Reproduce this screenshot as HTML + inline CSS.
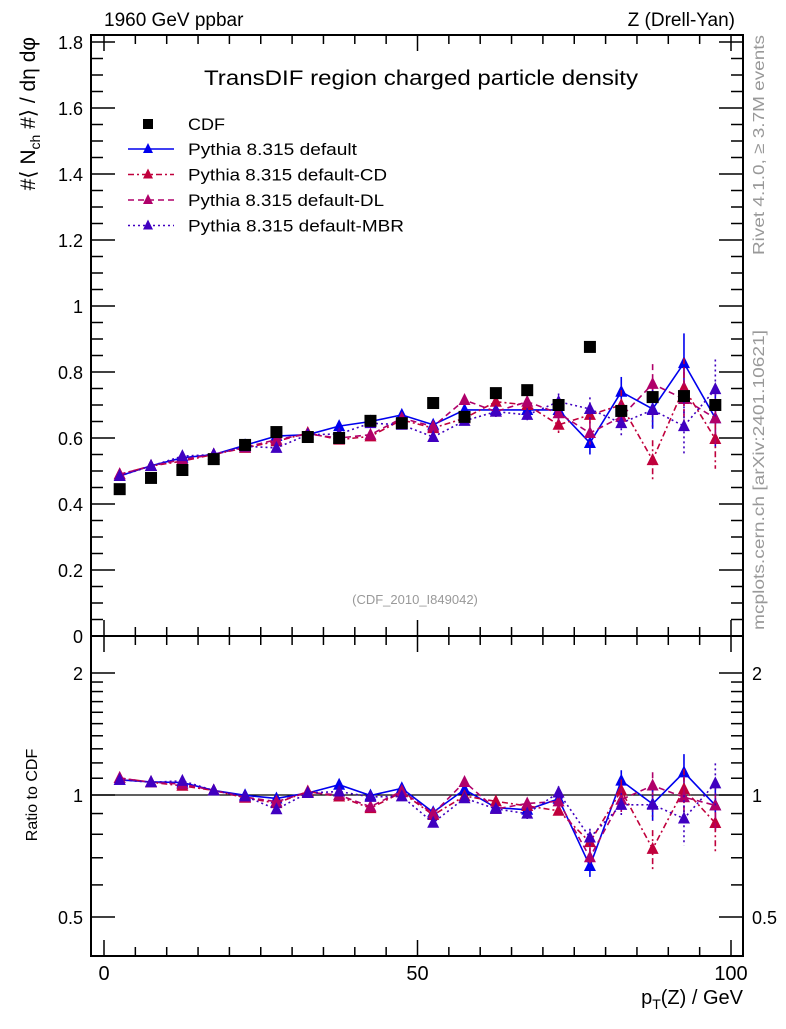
<!DOCTYPE html>
<html><head><meta charset="utf-8"><style>
body{margin:0;background:#fff;width:786px;height:1024px;overflow:hidden}
svg text{font-family:"Liberation Sans",sans-serif}
</style></head><body>
<svg id="c" width="786" height="1024" xmlns="http://www.w3.org/2000/svg"></svg>
<script>
const xs=[2.5,7.5,12.5,17.5,22.5,27.5,32.5,37.5,42.5,47.5,52.5,57.5,62.5,67.5,72.5,77.5,82.5,87.5,92.5,97.5];
const cdf=[0.445,0.479,0.503,0.536,0.579,0.618,0.603,0.600,0.652,0.645,0.706,0.664,0.736,0.745,0.700,0.876,0.682,0.724,0.727,0.700];
const sDefault=[0.485,0.516,0.540,0.550,0.578,0.606,0.610,0.636,0.650,0.670,0.640,0.685,0.685,0.685,0.685,0.585,0.740,0.688,0.827,0.660];
const sCD=[0.490,0.515,0.530,0.550,0.570,0.590,0.615,0.595,0.605,0.655,0.630,0.660,0.710,0.700,0.640,0.670,0.700,0.533,0.752,0.597];
const sDL=[0.490,0.515,0.535,0.550,0.572,0.595,0.612,0.600,0.610,0.660,0.635,0.715,0.680,0.710,0.675,0.615,0.664,0.764,0.718,0.660];
const sMBR=[0.485,0.515,0.545,0.550,0.575,0.570,0.610,0.612,0.645,0.640,0.603,0.652,0.680,0.670,0.710,0.688,0.645,0.685,0.636,0.748];
const errs=[0.004,0.004,0.004,0.005,0.005,0.006,0.007,0.008,0.009,0.01,0.012,0.014,0.016,0.02,0.025,0.035,0.045,0.06,0.09,0.09];
const yTicks=[0,0.2,0.4,0.6,0.8,1,1.2,1.4,1.6,1.8];
const rTicks=[0.5,1,2];
const xTicks=[0,50,100];
const NS="http://www.w3.org/2000/svg";
const svg=document.getElementById('c');
const L=91,R=743,T=35,M=636,B=956;
const X=v=>104+6.27*v, Y=v=>636-330*v, RY=r=>795-176*Math.log(r);
function el(t,a,txt){const e=document.createElementNS(NS,t);for(const k in a)e.setAttribute(k,a[k]);if(txt!=null)e.textContent=txt;svg.appendChild(e);return e;}
let e;
e=el('rect',{x:L,y:T,width:R-L,height:M-T,fill:'none',stroke:'#000','stroke-width':2});


e=el('rect',{x:L,y:M,width:R-L,height:B-M,fill:'none',stroke:'#000','stroke-width':2});


for(let v=0;v<=100;v+=5){const big=v%50==0;const l=big?16:9;
 for(const [y0,d] of [[T,1],[M,-1],[M,1],[B,-1]]){e=el('line',{x1:X(v),x2:X(v),y1:y0,y2:y0+d*l,stroke:'#000','stroke-width':1.5});
 
 }}
xTicks.forEach(v=>{e=el('text',{x:X(v),y:980,'font-size':20,'text-anchor':'middle'},String(v));
 
 });
for(let i=0;i<=36;i++){const v=i*0.05;const big=i%4==0;const l=big?24:12;
 [[L,1],[R,-1]].forEach(([x0,d])=>{e=el('line',{x1:x0,x2:x0+d*l,y1:Y(v),y2:Y(v),stroke:'#000','stroke-width':1.5});
 
 });}
yTicks.forEach(v=>{e=el('text',{x:83,y:Y(v)+7,'font-size':18,'text-anchor':'end'},String(v));
 
 });
[0.4,0.5,0.6,0.7,0.8,0.9,1,1.1,1.2,1.3,1.4,1.5,1.6,1.7,1.8,1.9,2].forEach(r=>{const big=[0.5,1,2].includes(r);const l=big?24:12;
 [[L,1],[R,-1]].forEach(([x0,d])=>{e=el('line',{x1:x0,x2:x0+d*l,y1:RY(r),y2:RY(r),stroke:'#000','stroke-width':1.5});
 
 });});
rTicks.forEach(r=>{e=el('text',{x:83,y:RY(r)+7,'font-size':18,'text-anchor':'end'},String(r));
 
 
 e=el('text',{x:752,y:RY(r)+7,'font-size':18},String(r));
 
 });
e=el('line',{x1:L,x2:R,y1:RY(1),y2:RY(1),stroke:'#000','stroke-width':1.2});


const series=[['default',sDefault,'#0000ee','none'],['default-cd',sCD,'#c0003c','6,3,2,3'],['default-dl',sDL,'#b0006a','6,4'],['default-mbr',sMBR,'#4000c0','2,3']];
series.forEach(([nm,vals,col,dash])=>{
 const pts=vals.map((v,i)=>X(xs[i])+','+Y(v)).join(' ');
 e=el('polyline',{points:pts,fill:'none',stroke:col,'stroke-width':1.6,'stroke-dasharray':dash});
 
 
 const rpts=vals.map((v,i)=>X(xs[i])+','+RY(v/cdf[i])).join(' ');
 e=el('polyline',{points:rpts,fill:'none',stroke:col,'stroke-width':1.6,'stroke-dasharray':dash});
 
 
 vals.forEach((v,i)=>{const x=X(xs[i]);
  [[Y(v),Y(v+errs[i]),Y(v-errs[i])],[RY(v/cdf[i]),RY((v+errs[i])/cdf[i]),RY((v-errs[i])/cdf[i])]].forEach(([y,y1,y2],k)=>{
   e=el('line',{x1:x,x2:x,y1:y1,y2:y2,stroke:col,'stroke-width':1.6,'stroke-dasharray':dash});
   
   
   e=el('polygon',{points:`${x-6},${y+5} ${x+6},${y+5} ${x},${y-7}`,fill:col});
   
   });});});
cdf.forEach((v,i)=>{e=el('rect',{x:X(xs[i])-6,y:Y(v)-6,width:12,height:12,fill:'#000'});
 
 });
e=el('rect',{x:148-5,y:124-5,width:10,height:10,fill:'#000'});


e=el('text',{x:188,y:130,'font-size':17,textLength:37,lengthAdjust:'spacingAndGlyphs'},'CDF');


const labs=['Pythia 8.315 default','Pythia 8.315 default-CD','Pythia 8.315 default-DL','Pythia 8.315 default-MBR'];
const labW=[169,199,196,216];
series.forEach(([nm,vals,col,dash],k)=>{const y=149+k*25.5;
 e=el('line',{x1:128,x2:174,y1:y,y2:y,stroke:col,'stroke-width':1.4,'stroke-dasharray':dash});
 
 
 e=el('polygon',{points:`${148-5},${y+4} ${148+5},${y+4} ${148},${y-6}`,fill:col});
 
 
 e=el('text',{x:188,y:y+6,'font-size':17,textLength:labW[k],lengthAdjust:'spacingAndGlyphs'},labs[k]);
 
 });
e=el('text',{x:104,y:26,'font-size':19},'1960 GeV ppbar');


e=el('text',{x:735,y:26,'font-size':19,'text-anchor':'end'},'Z (Drell-Yan)');


e=el('text',{x:204,y:85,'font-size':21,textLength:434,lengthAdjust:'spacingAndGlyphs'},'TransDIF region charged particle density');


e=el('text',{x:415,y:604,'font-size':13,'text-anchor':'middle',fill:'#999'},'(CDF_2010_I849042)');


e=el('text',{x:0,y:0,'font-size':21,'text-anchor':'end',transform:'translate(35,37) rotate(-90)'},'');
e.innerHTML='#⟨ N<tspan font-size="14" dy="5">ch</tspan><tspan dy="-5"> #⟩ / dη dφ</tspan>';


e=el('text',{x:0,y:0,'font-size':16,'text-anchor':'middle',transform:'translate(37,795) rotate(-90)'},'Ratio to CDF');


e=el('text',{x:743,y:1004,'font-size':20,'text-anchor':'end'},'');
e.innerHTML='p<tspan font-size="14" dy="5">T</tspan><tspan dy="-5">(Z) / GeV</tspan>';


e=el('text',{x:0,y:0,'font-size':16,fill:'#999','text-anchor':'middle',transform:'translate(764,145) rotate(-90)',textLength:220,lengthAdjust:'spacingAndGlyphs'},'Rivet 4.1.0, ≥ 3.7M events');


e=el('text',{x:0,y:0,'font-size':16,fill:'#999','text-anchor':'middle',transform:'translate(764,480) rotate(-90)',textLength:300,lengthAdjust:'spacingAndGlyphs'},'mcplots.cern.ch [arXiv:2401.10621]');


</script>
</body></html>
